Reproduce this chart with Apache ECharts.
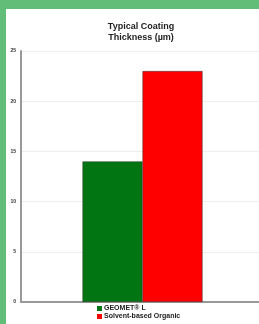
<!DOCTYPE html>
<html>
<head>
<meta charset="utf-8">
<script src="https://cdn.jsdelivr.net/npm/echarts@6/dist/echarts.min.js"></script>
<style>
  html, body { margin: 0; padding: 0; background: #62bd79; overflow: hidden; width: 259px; height: 324px; }
  #main { position: absolute; left: 6px; top: 9px; width: 270px; height: 315px; background: #fff; }
</style>
</head>
<body>
<div id="main"></div>
<script>
// chart data
var categories = ['Thickness']
var seriesNames = ['GEOMET® L', 'Solvent-based Organic']
var geometValues = [14]
var solventValues = [23]
var yTicks = [0, 5, 10, 15, 20, 25]

var chart = echarts.init(document.getElementById('main'), null, { renderer: 'canvas' })

var option = {
  animation: false,
  title: {
    text: 'Typical Coating\nThickness (µm)',
    left: 130,
    top: 7,
    textAlign: 'center',
    textStyle: {
      fontFamily: 'Liberation Sans',
      fontSize: 9,
      fontWeight: 'bold',
      lineHeight: 11,
      color: '#222'
    }
  },
  legend: {
    orient: 'vertical',
    left: 91,
    top: 296,
    padding: 0,
    itemWidth: 5,
    itemHeight: 5,
    itemGap: 1,
    icon: 'rect',
    itemStyle: { borderWidth: 0 },
    data: seriesNames,
    textStyle: {
      fontFamily: 'Liberation Sans',
      fontSize: 7,
      fontWeight: 'bold',
      lineHeight: 7,
      color: '#222',
      padding: [0, 0, 0, -3]
    }
  },
  grid: { left: 15, right: 12, top: 42, bottom: 22 },
  xAxis: {
    type: 'category',
    data: categories,
    axisLine: { lineStyle: { color: '#999', width: 2 } },
    axisTick: { show: false },
    axisLabel: { show: false }
  },
  yAxis: {
    type: 'value',
    min: yTicks[0],
    max: yTicks[yTicks.length - 1],
    interval: 5,
    axisLine: { show: true, lineStyle: { color: '#999', width: 2 } },
    axisTick: { show: false },
    axisLabel: {
      margin: 5,
      fontFamily: 'Liberation Sans',
      fontSize: 5,
      fontWeight: 'bold',
      color: '#333'
    },
    splitLine: { lineStyle: { color: '#eee', width: 1 } }
  },
  series: [
    {
      name: seriesNames[0],
      type: 'bar',
      data: geometValues,
      barWidth: 60,
      barGap: '0%',
      itemStyle: { color: '#007512', borderColor: '#333', borderWidth: 0.5 }
    },
    {
      name: seriesNames[1],
      type: 'bar',
      data: solventValues,
      barWidth: 60,
      itemStyle: { color: '#ff0000', borderColor: '#333', borderWidth: 0.5 }
    }
  ]
}

chart.setOption(option)
</script>
</body>
</html>
